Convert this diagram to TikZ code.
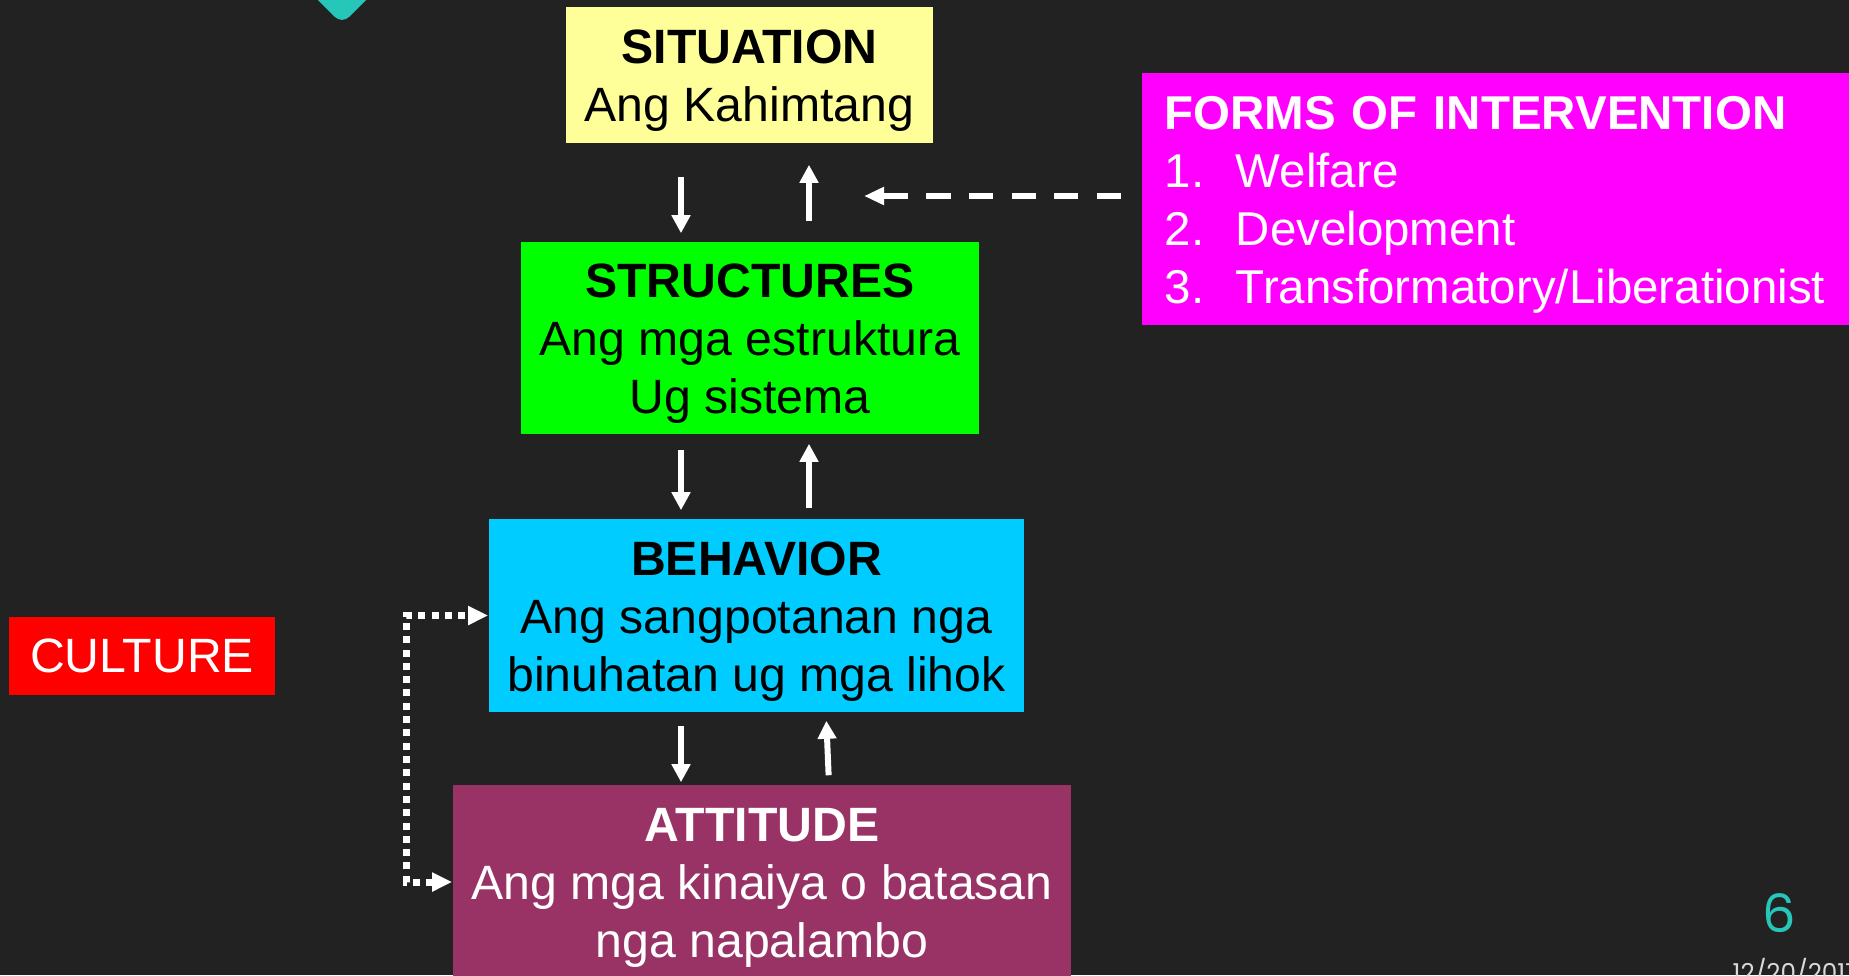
\documentclass[tikz,border=0pt]{standalone}
\usepackage{fontspec}
\setmainfont{Liberation Sans}
\newfontfamily\slidefont{Poppins}
\usetikzlibrary{arrows.meta}
\definecolor{slidebg}{HTML}{222222}
\definecolor{accent}{HTML}{26C6B8}
\definecolor{sitfill}{HTML}{FFFF99}
\definecolor{strfill}{HTML}{00FF00}
\definecolor{behfill}{HTML}{00CCFF}
\definecolor{attfill}{HTML}{993366}
\definecolor{formfill}{HTML}{FF00FF}
\definecolor{culfill}{HTML}{FF0000}
\definecolor{datefg}{HTML}{D9D9D9}
\tikzset{dottip/.tip={Triangle[length=0.2cm,width=0.18cm]}}
\begin{document}
\begin{tikzpicture}[x=0.01cm,y=-0.01cm,
    box/.style={rectangle,inner sep=0pt,align=center,font=\fontsize{13.7pt}{16.5pt}\selectfont},
    words/.style={inner sep=0pt,align=center,yshift=-0.06cm,font=\fontsize{13.7pt}{16.5pt}\selectfont},
    flow/.style={white,line width=0.06cm,-{Triangle[length=0.18cm,width=0.18cm]}}]
    \pgfmathsetmacro\dnx{681}
    \pgfmathsetmacro\upx{809}
    \useasboundingbox (0,0) rectangle (1849,975);
    \fill[slidebg] (0,0) rectangle (1849,975);
    \fill[accent,rounded corners=0.1cm] (262,-56) -- (342,24) -- (422,-56) -- cycle;
    \node[box,fill=sitfill,minimum width=3.67cm,minimum height=1.36cm,
        label={[words]center:{\textbf{SITUATION}\\Ang Kahimtang}}] (sit) at (749.5,75) {};
    \node[box,fill=strfill,minimum width=4.58cm,minimum height=1.92cm,
        label={[words]center:{\textbf{STRUCTURES}\\Ang mga estruktura\\Ug sistema}}] (str) at (750,338) {};
    \node[box,fill=behfill,minimum width=5.35cm,minimum height=1.93cm,
        label={[words]center:{\textbf{BEHAVIOR}\\Ang sangpotanan nga\\binuhatan ug mga lihok}}] (beh) at (756.5,615.5) {};
    \node[box,fill=attfill,minimum width=6.18cm,minimum height=1.94cm,
        label={[words,text=white]center:{\textbf{ATTITUDE}\\Ang mga kinaiya o batasan\\nga napalambo}}] (att) at (762,882) {};
    \node[box,fill=formfill,anchor=west,minimum width=7.2cm,minimum height=2.52cm,
        label={[words,text=white,align=left,text width=6.74cm,font=\fontsize{13.5pt}{16.5pt}\selectfont]center:{\textbf{FORMS OF INTERVENTION}\\\makebox[0.71cm][l]{1.}Welfare\\\makebox[0.71cm][l]{2.}Development\\\makebox[0.71cm][l]{3.}Transformatory/Liberationist}}] (forms) at (1141,199) {};
    \node[box,fill=culfill,text=white,minimum width=2.66cm,minimum height=0.78cm] (cul) at (142,656) {CULTURE};
    \node[text=accent,inner sep=0pt,font=\slidefont\fontsize{15pt}{18pt}\selectfont] (pg) at (1779,913) {6};
    \node[text=datefg,anchor=base west,inner sep=0pt,font=\slidefont\fontsize{7pt}{8pt}\selectfont] (date) at (1732,981) {12/20/2017};
    \coordinate (dn) at (\dnx,0);
    \coordinate (up) at (\upx,0);
    \coordinate (tiltfoot) at (829,0);
    \coordinate (tilttip) at (826,0);
    \coordinate (aim) at (864,196);
    \coordinate (rail) at (406,0);
    \draw[flow,shorten <=0.33cm,shorten >=0.08cm] (sit.south -| dn) -- (str.north -| dn);
    \draw[flow,shorten <=0.2cm,shorten >=0.21cm] (str.north -| up) -- (sit.south -| up);
    \draw[flow,shorten <=0.15cm,shorten >=0.08cm] (str.south -| dn) -- (beh.north -| dn);
    \draw[flow,shorten <=0.1cm,shorten >=0.09cm] (beh.north -| up) -- (str.south -| up);
    \draw[flow,shorten <=0.13cm,shorten >=0.02cm] (beh.south -| dn) -- (att.north -| dn);
    \draw[flow,shorten <=0.09cm,shorten >=0.08cm] (att.north -| tiltfoot) -- (beh.south -| tilttip);
    \draw[white,line width=0.06cm,dash pattern=on 0.24cm off 0.186cm,-{Triangle[length=0.2cm,width=0.17cm]},shorten <=0.2cm] (forms.west |- aim) -- (aim);
    \draw[white,line width=0.07cm,dash pattern=on 0.07cm off 0.063cm,dottip-dottip] (att.west) -- (att.west -| rail) -- (beh.west -| rail) -- (beh.west);
\end{tikzpicture}
\end{document}
